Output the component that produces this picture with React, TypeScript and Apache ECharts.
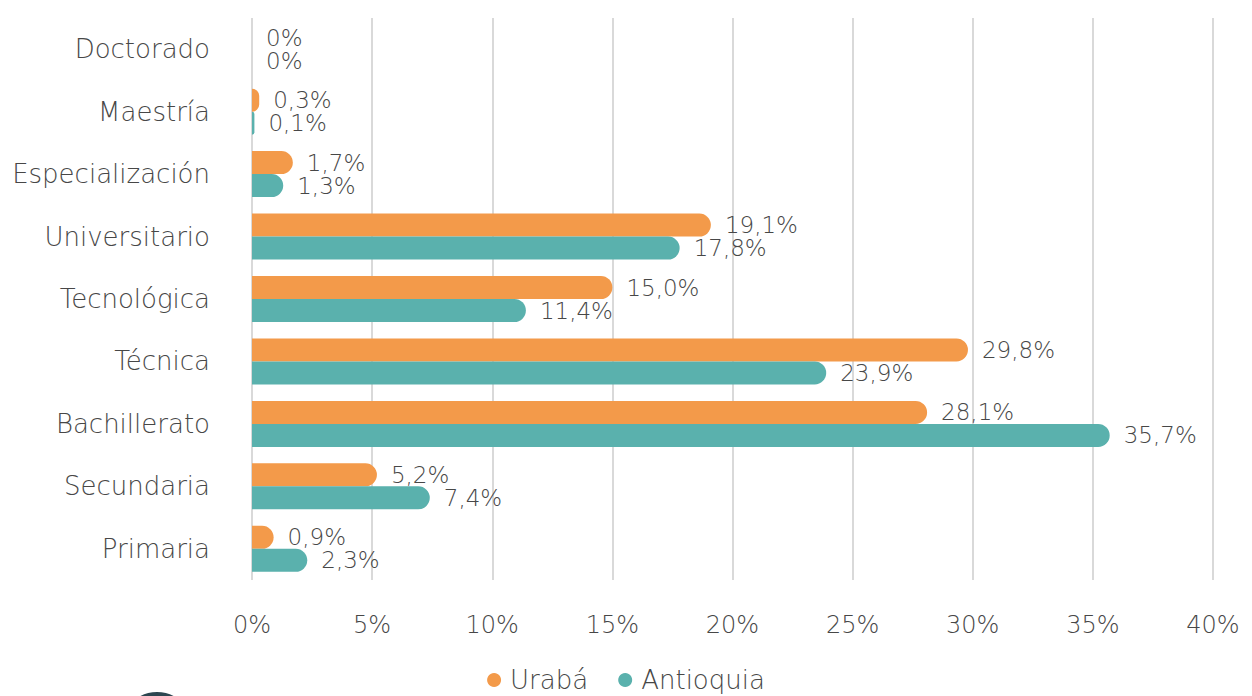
import React, { useEffect, useRef } from "react";
import * as echarts from "echarts";

const categories = [
  "Doctorado",
  "Maestría",
  "Especialización",
  "Universitario",
  "Tecnológica",
  "Técnica",
  "Bachillerato",
  "Secundaria",
  "Primaria",
];
const uraba = [0, 0.3, 1.7, 19.1, 15.0, 29.8, 28.1, 5.2, 0.9];
const antioquia = [0, 0.1, 1.3, 17.8, 11.4, 23.9, 35.7, 7.4, 2.3];
const seriesNames = ["Urabá", "Antioquia"];

const FONT = "'DejaVu Sans', 'Open Sans', sans-serif";
const TEXT = "#474747";
const W = 200;

const fmt = (v: number) => (v === 0 ? "0%" : v.toFixed(1).replace(".", ",") + "%");

export default function App() {
  const ref = useRef<HTMLDivElement>(null);
  useEffect(() => {
    if (!ref.current) return;
    const chart = echarts.init(ref.current, undefined, { renderer: "svg" });
    const mkSeries = (name: string, data: number[], color: string) => ({
      name,
      type: "bar",
      data,
      barWidth: 23,
      barGap: "0%",
      itemStyle: { color, borderRadius: [0, 11.5, 11.5, 0] },
      label: {
        show: true,
        position: "right",
        distance: 14,
        formatter: (p: any) => fmt(p.value),
        color: TEXT,
        fontFamily: FONT,
        fontWeight: W,
        fontSize: 23,
        lineHeight: 20,
      },
    });
    chart.setOption({
      animation: false,
      textStyle: { fontFamily: FONT },
      grid: { left: 252, right: 39, top: 18, bottom: 116, containLabel: false },
      legend: {
        data: seriesNames,
        top: 662,
        left: "center",
        icon: "circle",
        itemWidth: 14,
        itemHeight: 14,
        itemGap: 30,
        textStyle: { color: TEXT, fontSize: 26, fontFamily: FONT, fontWeight: W, lineHeight: 24, padding: [0, 0, 0, 4] },
      },
      xAxis: {
        type: "value",
        min: 0,
        max: 40,
        interval: 5,
        axisLine: { show: false },
        axisTick: { show: false },
        splitLine: { show: true, lineStyle: { color: "#d9d9d9", width: 2 } },
        axisLabel: {
          formatter: (v: number) => v + "%",
          color: TEXT,
          fontSize: 24,
          fontFamily: FONT,
          fontWeight: W,
          margin: 33,
        },
      },
      yAxis: {
        type: "category",
        data: categories,
        inverse: true,
        axisLine: { show: false },
        axisTick: { show: false },
        axisLabel: { color: TEXT, fontSize: 26, fontFamily: FONT, fontWeight: W, margin: 42 },
      },
      graphic: [
        {
          type: "ellipse",
          shape: { cx: 157, cy: 716, rx: 30, ry: 24 },
          style: { fill: "#2c4650" },
        },
      ],
      series: [
        mkSeries(seriesNames[0], uraba, "#f39a4a"),
        mkSeries(seriesNames[1], antioquia, "#5ab1ad"),
      ],
    });
    return () => chart.dispose();
  }, []);
  return <div ref={ref} style={{ width: 1252, height: 696, position: "absolute", left: 0, top: 0 }} />;
}
